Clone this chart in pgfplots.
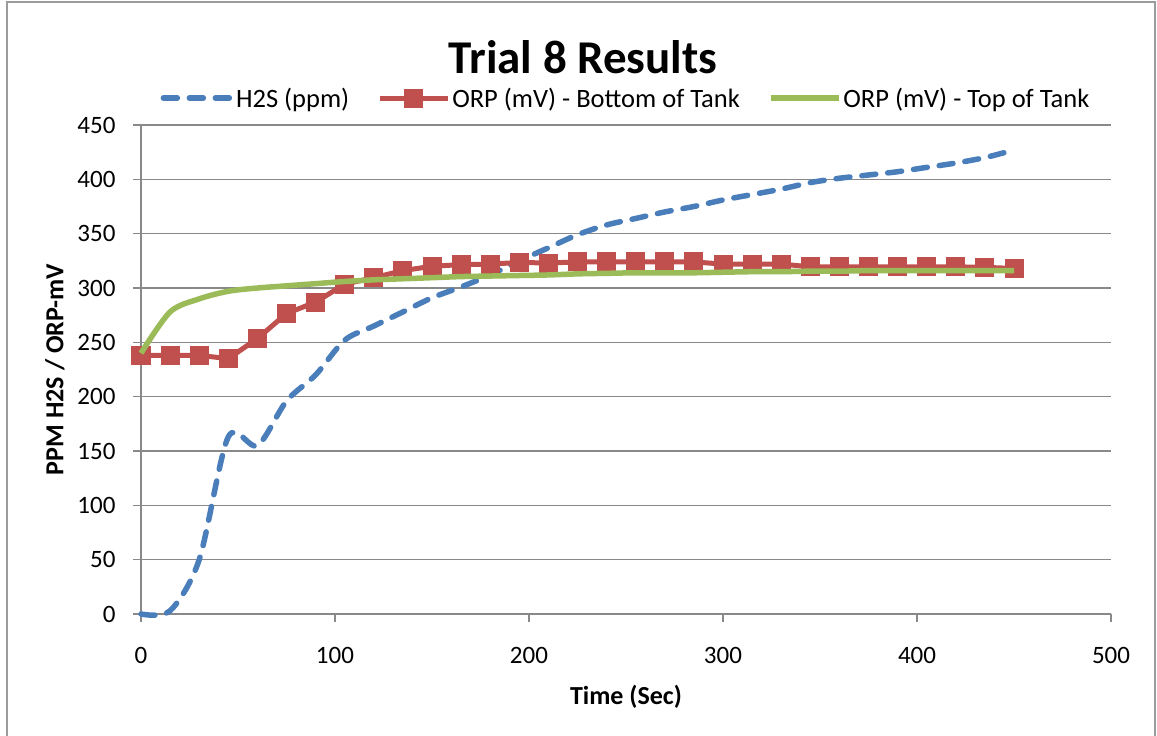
\documentclass[border=0pt]{standalone}
\usepackage{fontspec}
\setmainfont{Carlito}
\usepackage{pgfplots}
\pgfplotsset{compat=1.18}
\definecolor{h2sblue}{HTML}{4A7EBB}
\definecolor{orpred}{HTML}{C0504D}
\definecolor{orpgreen}{HTML}{9BBB59}
\definecolor{gridgray}{HTML}{898989}
\begin{document}
\begin{tikzpicture}
\useasboundingbox (0bp,0bp) rectangle (1157bp,736bp);
\draw[gridgray!85, line width=1.5bp] (7bp,-10bp) -- (7bp,734bp) -- (1155bp,734bp) -- (1155bp,-10bp);
\begin{axis}[
  at={(141bp,122bp)}, anchor=south west,
  scale only axis, width=970bp, height=489bp,
  xmin=0, xmax=500, ymin=0, ymax=450,
  xtick={0,100,...,500}, ytick={0,50,...,450},
  axis x line*=bottom, axis y line*=left,
  axis line style={gridgray, line width=1.3bp},
  tick align=outside, major tick length=8bp,
  tick style={gridgray, line width=1.3bp},
  ymajorgrids, grid style={gridgray, line width=1.3bp},
  clip=false, clip marker paths=true,
  /pgf/number format/assume math mode=true,
  ticklabel style={font=\fontsize{25bp}{30bp}\selectfont},
  yticklabel style={xshift=-14bp},
  xticklabel style={yshift=-22bp},
  xlabel={Time (Sec)}, ylabel={PPM H2S / ORP-mV},
  label style={font=\fontsize{26bp}{30bp}\selectfont\bfseries},
  xlabel style={at={(axis description cs:0.5,-0.17)}, anchor=center},
  ylabel style={at={(axis description cs:-0.0887,0.5)}, anchor=center},
  legend style={at={(0.5,1.055)}, anchor=center, draw=none, fill=none,
    font=\fontsize{26.5bp}{30bp}\selectfont,
    /tikz/every even column/.append style={column sep=26bp}},
  legend columns=3, legend cell align=left,
  legend image code/.code={\draw[mark repeat=2,mark phase=2,#1] plot coordinates {(0bp,0bp)(34bp,0bp)(68bp,0bp)};},
]
\addplot[h2sblue, line width=5.5bp, dash pattern=on 14bp off 12bp, line cap=round, smooth] coordinates {
(0,0) (15,3) (30,50) (45,163) (60,155) (75,196) (90,220) (105,252) (120,265) (135,278)
(150,291) (165,301) (180,312) (195,325) (210,337) (225,349) (240,358) (255,364) (270,370)
(285,375) (300,381) (315,386) (330,391) (345,397) (360,401) (375,404) (390,407) (405,411)
(420,415) (435,420) (450,427)};
\addlegendentry{H2S (ppm)}
\addplot[orpred, line width=5bp, mark=square*, mark size=9bp, mark options={solid, fill=orpred, draw=orpred, line width=1bp}] coordinates {
(0,238) (15,238) (30,238) (45,235) (60,253.5) (75,276.5) (90,287) (105,303.5) (120,309.5)
(135,316) (150,320) (165,321.5) (180,322) (195,323.5) (210,323) (225,324) (240,324) (255,324)
(270,324) (285,324) (300,322) (315,322) (330,322) (345,319.5) (360,319.5) (375,319.5)
(390,319.5) (405,319.5) (420,319.5) (435,319) (450,318)};
\addlegendentry{ORP (mV) - Bottom of Tank}
\addplot[orpgreen, line width=5.5bp, smooth] coordinates {
(0,240) (15,278) (30,290) (45,297) (60,300) (75,302) (90,304) (105,306) (120,307.5)
(135,308.5) (150,309.5) (165,310.5) (180,311) (195,311.5) (210,312) (225,313) (240,313.5)
(255,314) (270,314) (285,314) (300,314.5) (315,315) (330,315) (345,315.5) (360,315.5)
(375,316) (390,316) (405,316) (420,316) (435,316) (450,316)};
\addlegendentry{ORP (mV) - Top of Tank}
\end{axis}
\node[font=\fontsize{47bp}{52bp}\selectfont\bfseries] at (583bp,679bp) {Trial 8 Results};
\end{tikzpicture}
\end{document}
